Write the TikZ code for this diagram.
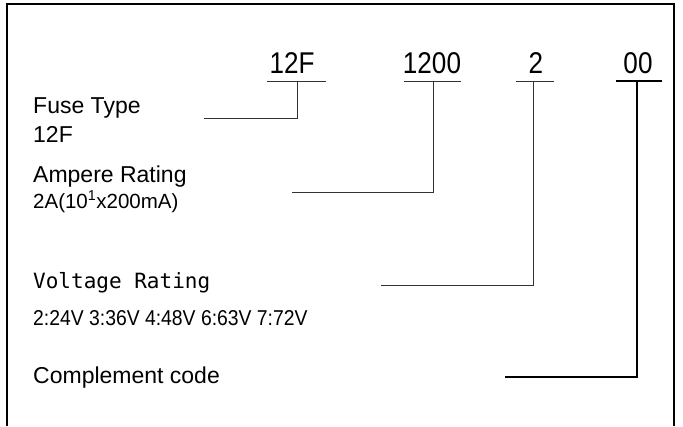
\documentclass[tikz,border=0pt]{standalone}
\usepackage{fontspec}
\setmainfont{Liberation Sans}
\newfontfamily\monofam{DejaVu Sans Mono}
\newfontfamily\condtop[FakeStretch=0.87]{Liberation Sans}
\newfontfamily\condsmall[FakeStretch=0.9]{Liberation Sans}
\begin{document}
\begin{tikzpicture}[x=1pt,y=-1pt,
  toplabel/.style={anchor=base,inner sep=0pt,font=\condtop\fontsize{30}{32}\selectfont},
  desc/.style={anchor=base west,inner sep=0pt,font=\fontsize{23}{25}\selectfont},
  descamp/.style={anchor=base west,inner sep=0pt,font=\fontsize{20.5}{23}\selectfont},
  descsmall/.style={anchor=base west,inner sep=0pt,font=\condsmall\fontsize{21.5}{23}\selectfont},
  descmono/.style={anchor=base west,inner sep=0pt,font=\monofam\fontsize{21}{23}\selectfont},
  thinline/.style={line width=0.9pt,black!80},
  thickline/.style={line width=1.6pt,black},
  frame/.style={line width=1.6pt,black}]
\useasboundingbox (0,0) rectangle (683,426);
% frame (open at bottom)
\draw[frame] (7,426) -- (7,4) -- (674,4) -- (674,426);
% top code labels
\node[toplabel] (t1) at (292,73) {12F};
\node[toplabel] (t2) at (432,73) {1200};
\node[toplabel] (t3) at (536,73) {2};
\node[toplabel] (t4) at (638,73) {00};
% underlines
\coordinate (u1l) at (267,81); \coordinate (u1r) at (326,81); \coordinate (u1) at (297,81);
\coordinate (u2l) at (404,81); \coordinate (u2r) at (461,81); \coordinate (u2) at (433,81);
\coordinate (u3l) at (516,81); \coordinate (u3r) at (554,81); \coordinate (u3) at (533,81);
\coordinate (u4l) at (616,81); \coordinate (u4r) at (662,81); \coordinate (u4) at (637,81);
\draw[thinline] (u1l) -- (u1r);
\draw[thinline] (u2l) -- (u2r);
\draw[thinline] (u3l) -- (u3r);
\draw[thickline] (u4l) -- (u4r);
% descriptions
\node[desc] (d1) at (33,113) {Fuse Type};
\node[desc] (d1b) at (33,142) {12F};
\node[desc] (d2) at (33,182) {Ampere Rating};
\node[descamp] (d2b) at (33,208) {2A(10\textsuperscript{1}x200mA)};
\node[descmono] (d3) at (33,288) {Voltage Rating};
\node[descsmall] (d3b) at (33,325) {2:24V 3:36V 4:48V 6:63V 7:72V};
\node[desc] (d4) at (33,383) {Complement code};
% connector ends
\coordinate (e1) at (204,118);
\coordinate (e2) at (292,192);
\coordinate (e3) at (381,285);
\coordinate (e4) at (505,377);
\draw[thinline] (u1) |- (e1);
\draw[thinline] (u2) |- (e2);
\draw[thinline] (u3) |- (e3);
\draw[thickline] (u4) |- (e4);
\end{tikzpicture}
\end{document}
